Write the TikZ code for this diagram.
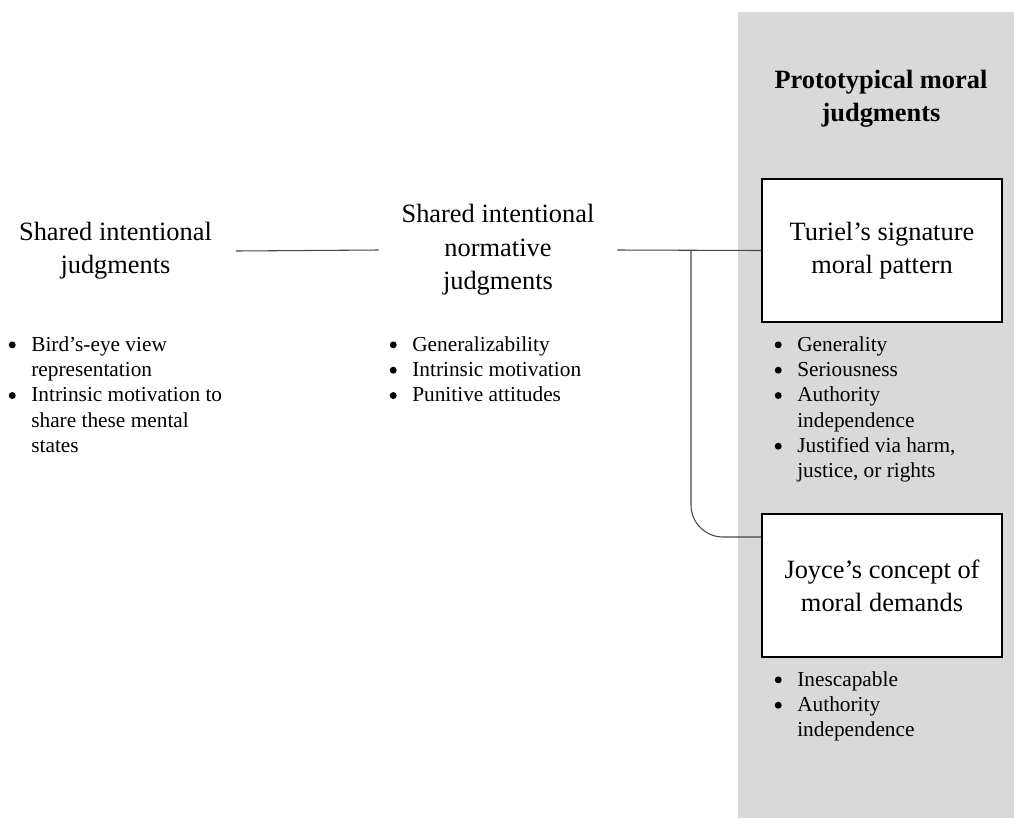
\documentclass[tikz,border=0pt]{standalone}
\usepackage{fontspec}
\setmainfont{Liberation Serif}
\usetikzlibrary{calc}
\definecolor{panelgray}{RGB}{217,217,217}
\definecolor{linegray}{RGB}{70,70,70}
\newcommand{\bigtext}{\fontsize{19.8}{25}\selectfont}
\newcommand{\listtext}{\fontsize{16}{19}\selectfont}
\tikzset{
  heading/.style={align=center, font=\bigtext, inner ysep=0pt, inner xsep=17pt},
  panelhead/.style={align=center, font=\bigtext\bfseries, inner sep=0pt},
  frame/.style={draw=black, line width=1.5pt, fill=white, align=center, font=\bigtext,
                minimum width=180pt, minimum height=107.25pt, inner sep=0pt},
  bullets/.style={anchor=north west, inner sep=0pt, font=\listtext},
  conn/.style={draw=linegray, line width=0.8pt}
}
% a round list marker and a two-column list layout
\newcommand{\dotmark}{\tikz[baseline=0pt]\fill (0,4.6pt) circle (2.6pt);}
\newcommand{\itemlist}[1]{\renewcommand{\arraystretch}{1}\begin{tabular}{@{}c@{\hspace{11.7pt}}l@{}}#1\end{tabular}}
\begin{document}
\begin{tikzpicture}[x=0.75pt,y=-0.75pt]
  \useasboundingbox (0,0) rectangle (1014,818);
  % shaded column for the prototypical cases
  \fill[panelgray] (738,12) rectangle (1014,818);
  \node[panelhead] (head) at (881,99) {Prototypical moral\\judgments};

  % stage headings
  \node[heading, inner xsep=18pt] (shared) at (115.5,251) {Shared intentional\\judgments};
  \node[heading] (norm) at (498,250) {Shared intentional\\normative\\judgments};

  % framed prototypes
  \node[frame] (turiel) at (882,250.5) {Turiel’s signature\\moral pattern};
  \node[frame] (joyce) at (882,585.5) {Joyce’s concept of\\moral demands};

  % feature lists
  \node[bullets] (sharedlist) at (8.5,333) {\itemlist{%
    \dotmark & Bird’s-eye view\\
             & representation\\
    \dotmark & Intrinsic motivation to\\
             & share these mental\\
             & states}};
  \node[bullets] (normlist) at (389.5,333) {\itemlist{%
    \dotmark & Generalizability\\
    \dotmark & Intrinsic motivation\\
    \dotmark & Punitive attitudes}};
  \node[bullets] (turiellist) at (774.5,333) {\itemlist{%
    \dotmark & Generality\\
    \dotmark & Seriousness\\
    \dotmark & Authority\\
             & independence\\
    \dotmark & Justified via harm,\\
             & justice, or rights}};
  \node[bullets] (joycelist) at (774.5,668) {\itemlist{%
    \dotmark & Inescapable\\
    \dotmark & Authority\\
             & independence}};

  % connectors
  \coordinate (branch) at (691,250);
  \coordinate (joycein) at ($(joyce.north west)+(0,24)$);
  \draw[conn] (shared.east) -- (norm.west);
  \draw[conn] (norm.east) -- (turiel.west);
  \draw[conn, rounded corners=24pt] (branch) |- (joycein);
\end{tikzpicture}
\end{document}
